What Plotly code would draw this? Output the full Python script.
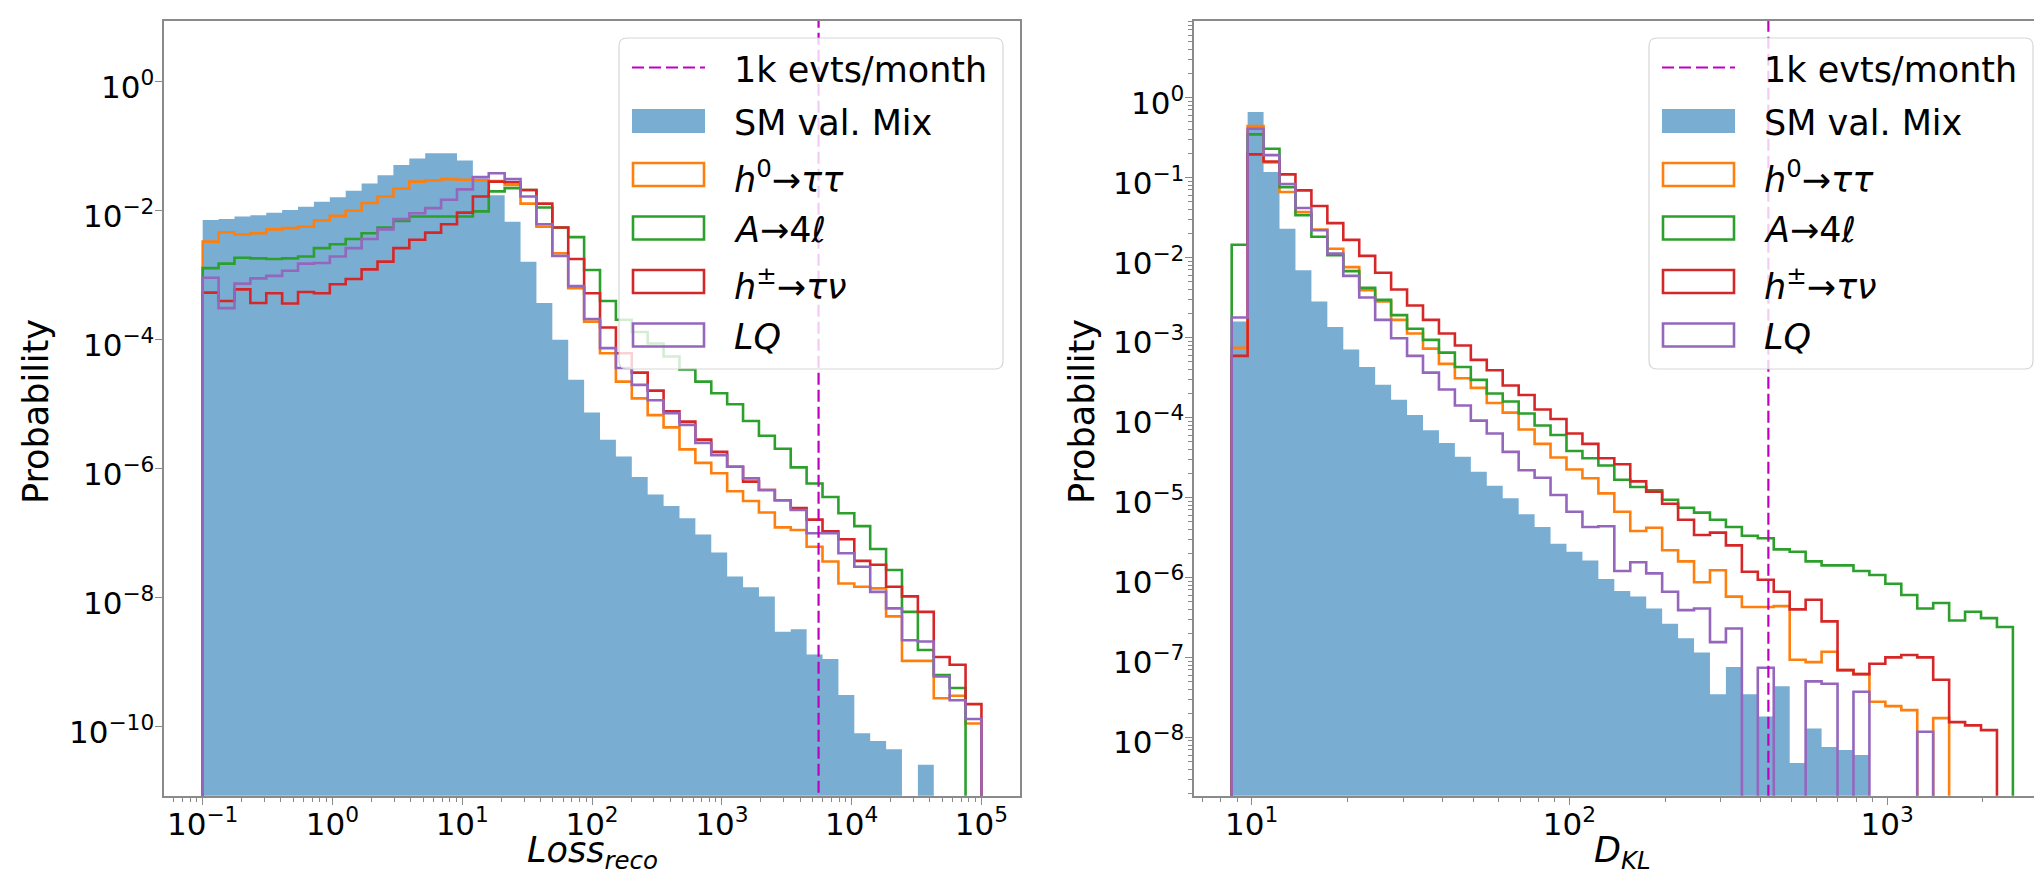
import numpy as np
import plotly.graph_objects as go

W, H = 2034, 876

# ---------------- data (log10 of probability per bin; None = empty bin) ----------------
N_BINS = 49
loss_edge_lo, loss_edge_hi = -1.0, 5.0        # log10 of first / last bin edge (Loss_reco)
dkl_edge_lo, dkl_edge_hi = 0.937, 3.396       # log10 of first / last bin edge (D_KL)
loss_cut = 5.56e3                              # 1k evts/month threshold (left)
dkl_cut = 423.0                                # 1k evts/month threshold (right)

loss_sm = [-2.145, -2.13, -2.09, -2.07, -2.03, -1.99, -1.94, -1.86, -1.79, -1.69,
           -1.58, -1.45, -1.29, -1.19, -1.11, -1.11, -1.22, -1.50, -1.76, -2.17,
           -2.79, -3.43, -4.00, -4.62, -5.13, -5.55, -5.81, -6.13, -6.40, -6.58,
           -6.77, -7.02, -7.30, -7.67, -7.84, -7.98, -8.53, -8.49, -8.88, -8.95,
           -9.51, -10.10, -10.22, -10.35, None, -10.59, None, None, None]
loss_h0 = [-2.48, -2.335, -2.37, -2.35, -2.29, -2.27, -2.25, -2.15, -2.08, -2.00,
           -1.88, -1.78, -1.66, -1.55, -1.53, -1.51, -1.52, -1.53, -1.54, -1.60,
           -1.89, -2.25, -2.66, -3.20, -3.72, -4.21, -4.65, -4.91, -5.17, -5.36,
           -5.70, -5.91, -6.07, -6.35, -6.50, -6.68, -6.91, -6.95, -7.21, -7.44,
           -7.78, -7.83, -7.855, -8.29, -8.98, -8.98, -9.56, -9.52, -9.95]
loss_a4l = [-2.89, -2.82, -2.73, -2.74, -2.75, -2.74, -2.71, -2.58, -2.52, -2.44,
            -2.35, -2.26, -2.16, -2.09, -2.09, -2.09, -2.09, -2.01, -1.70, -1.65,
            -1.68, -1.95, -2.26, -2.41, -2.92, -3.40, -3.69, -3.88, -4.06, -4.26,
            -4.46, -4.65, -4.83, -5.00, -5.26, -5.49, -5.69, -5.98, -6.23, -6.44,
            -6.69, -6.89, -7.245, -7.57, -8.22, -8.81, -9.20, -9.40, None]
loss_hpm = [-3.27, -3.40, -3.22, -3.43, -3.28, -3.44, -3.26, -3.28, -3.14, -3.06,
            -2.91, -2.79, -2.58, -2.45, -2.34, -2.21, -2.03, -1.78, -1.55, -1.56,
            -1.68, -1.89, -2.26, -2.75, -3.28, -3.81, -4.21, -4.51, -4.79, -5.11,
            -5.27, -5.55, -5.74, -5.97, -6.20, -6.33, -6.49, -6.61, -6.79, -6.97,
            -7.095, -7.43, -7.49, -7.83, -7.98, -8.22, -8.92, -9.04, -9.65]
loss_lq = [-3.04, -3.51, -3.13, -3.05, -3.01, -2.93, -2.82, -2.81, -2.71, -2.58,
           -2.44, -2.29, -2.13, -2.04, -1.96, -1.83, -1.67, -1.48, -1.42, -1.51,
           -1.78, -2.21, -2.70, -3.17, -3.68, -4.13, -4.44, -4.70, -4.94, -5.14,
           -5.32, -5.60, -5.79, -5.97, -6.15, -6.33, -6.49, -6.64, -7.00, -7.00,
           -7.31, -7.52, -7.91, -8.165, -8.66, -8.68, -9.22, -9.59, -9.88]

dkl_sm = [-2.8, -0.18, -0.93, -1.64, -2.16, -2.55, -2.87, -3.15, -3.37, -3.59,
          -3.78, -3.97, -4.16, -4.32, -4.49, -4.68, -4.855, -5.01, -5.21, -5.37,
          -5.58, -5.68, -5.79, -6.02, -6.17, -6.24, -6.39, -6.58, -6.76, -6.94,
          -7.46, -7.12, -7.46, -7.74, -7.36, -8.32, -7.89, -8.12, -8.16, -8.22,
          None, None, None, None, None, None, None, None, None]
dkl_h0 = [-3.13, -0.355, -0.81, -1.18, -1.43, -1.65, -1.89, -2.12, -2.41, -2.55,
          -2.78, -2.95, -3.14, -3.33, -3.51, -3.63, -3.82, -3.94, -4.15, -4.33,
          -4.50, -4.65, -4.76, -4.95, -5.18, -5.42, -5.38, -5.66, -5.80, -6.06,
          -5.91, -6.24, -6.37, -6.37, -6.36, -7.03, -7.06, -6.93, -7.16, -7.21,
          -7.555, -7.61, -7.66, None, -7.76, None, None, None, None]
dkl_a4l = [-1.84, -0.46, -0.64, -1.12, -1.47, -1.74, -1.97, -2.17, -2.38, -2.53,
           -2.72, -2.89, -3.03, -3.19, -3.37, -3.53, -3.70, -3.80, -3.95, -4.10,
           -4.22, -4.42, -4.51, -4.60, -4.78, -4.87, -4.91, -5.03, -5.13, -5.19,
           -5.28, -5.37, -5.48, -5.51, -5.65, -5.68, -5.80, -5.85, -5.85, -5.92,
           -5.97, -6.08, -6.22, -6.39, -6.32, -6.54, -6.43, -6.51, -6.62]
dkl_hpm = [-3.23, -0.71, -0.80, -0.96, -1.16, -1.355, -1.57, -1.78, -1.98, -2.19,
           -2.40, -2.60, -2.78, -2.95, -3.10, -3.28, -3.41, -3.60, -3.72, -3.90,
           -4.02, -4.20, -4.33, -4.51, -4.585, -4.80, -4.93, -5.08, -5.28, -5.47,
           -5.44, -5.60, -5.93, -6.03, -6.18, -6.40, -6.28, -6.55, -7.16, -7.21,
           -7.08, -7.00, -6.97, -7.00, -7.28, -7.81, -7.85, -7.91, None]
dkl_lq = [-2.75, -0.39, -0.72, -1.08, -1.38, -1.66, -1.95, -2.23, -2.50, -2.78,
          -3.01, -3.23, -3.44, -3.65, -3.85, -4.04, -4.20, -4.43, -4.66, -4.755,
          -4.97, -5.18, -5.37, -5.36, -5.92, -5.81, -5.95, -6.18, -6.41, -6.39,
          -6.81, -6.64, None, -7.13, None, None, -7.30, -7.33, None, -7.43,
          None, None, None, -7.93, None, None, None, None, None]

series_labels = ["SM val. Mix",
                 "<i>h</i><sup>0</sup>→<i>ττ</i>",
                 "<i>A</i>→4<i>ℓ</i>",
                 "<i>h</i><sup>±</sup>→<i>τν</i>",
                 "<i>LQ</i>"]
cut_label = "1k evts/month"
left_xticks = [1e-1, 1e0, 1e1, 1e2, 1e3, 1e4, 1e5]
left_xtext = ["10<sup>−1</sup>", "10<sup>0</sup>", "10<sup>1</sup>", "10<sup>2</sup>",
              "10<sup>3</sup>", "10<sup>4</sup>", "10<sup>5</sup>"]
left_yticks = [1e0, 1e-2, 1e-4, 1e-6, 1e-8, 1e-10]
left_ytext = ["10<sup>0</sup>", "10<sup>−2</sup>", "10<sup>−4</sup>", "10<sup>−6</sup>",
              "10<sup>−8</sup>", "10<sup>−10</sup>"]
right_xticks = [1e1, 1e2, 1e3]
right_xtext = ["10<sup>1</sup>", "10<sup>2</sup>", "10<sup>3</sup>"]
right_yticks = [1e0, 1e-1, 1e-2, 1e-3, 1e-4, 1e-5, 1e-6, 1e-7, 1e-8]
right_ytext = ["10<sup>0</sup>", "10<sup>−1</sup>", "10<sup>−2</sup>", "10<sup>−3</sup>",
               "10<sup>−4</sup>", "10<sup>−5</sup>", "10<sup>−6</sup>", "10<sup>−7</sup>",
               "10<sup>−8</sup>"]

# ---------------- styles ----------------
C_SM = "rgba(31,119,180,0.6)"
COLORS = ["#ff7f0e", "#2ca02c", "#d62728", "#9467bd"]
C_CUT = "#bf00bf"
LW = 2.6
FONT = "DejaVu Sans"
SPINE = "#8a8a8a"
FLOOR = 1e-30
TICK_FS = 31
LABEL_FS = 35
LEG_FS = 35

def step_path(lo, hi, vals):
    edges = np.logspace(lo, hi, len(vals) + 1)
    xs, ys = [edges[0]], [FLOOR]
    for i, v in enumerate(vals):
        y = FLOOR if v is None else 10.0 ** v
        xs += [edges[i], edges[i + 1]]
        ys += [y, y]
    xs.append(edges[-1]); ys.append(FLOOR)
    return xs, ys

fig = go.Figure()

panels = [
    (("x", "y"), (loss_edge_lo, loss_edge_hi), loss_sm, [loss_h0, loss_a4l, loss_hpm, loss_lq], loss_cut),
    (("x2", "y2"), (dkl_edge_lo, dkl_edge_hi), dkl_sm, [dkl_h0, dkl_a4l, dkl_hpm, dkl_lq], dkl_cut),
]
for (xa, ya), (lo, hi), sm, sigs, cut in panels:
    xs, ys = step_path(lo, hi, sm)
    fig.add_trace(go.Scatter(x=xs, y=ys, mode="lines", fill="toself", fillcolor=C_SM,
                             line=dict(width=0, color=C_SM), xaxis=xa, yaxis=ya,
                             showlegend=False, hoverinfo="skip"))
    for vals, col in zip(sigs, COLORS):
        xs, ys = step_path(lo, hi, vals)
        fig.add_trace(go.Scatter(x=xs, y=ys, mode="lines", line=dict(color=col, width=LW),
                                 xaxis=xa, yaxis=ya, showlegend=False, hoverinfo="skip"))
    fig.add_trace(go.Scatter(x=[cut, cut], y=[FLOOR, 1e10], mode="lines",
                             line=dict(color=C_CUT, width=2.2, dash="12px,5px"),
                             xaxis=xa, yaxis=ya, showlegend=False, hoverinfo="skip"))

# ---------------- axes ----------------
L_SPINE, R_SPINE = 164, 1194
ydom = [1 - 795.7 / H, 1 - 21 / H]
tickfont = dict(family=FONT, size=TICK_FS, color="black")
common = dict(type="log", showgrid=False, zeroline=False, showline=True, linecolor=SPINE,
              linewidth=1.6, ticks="outside", ticklen=7, tickwidth=1.4, tickcolor=SPINE,
              tickfont=tickfont, tickmode="array")

def minor_vals(dlo, dhi):
    return [m * 10.0 ** d for d in range(dlo, dhi) for m in range(2, 10)]

fig.update_layout(
    xaxis=dict(common, domain=[L_SPINE / W, 1020 / W], range=[-1.298, 5.297], anchor="y",
               mirror=True, tickvals=left_xticks, ticktext=left_xtext, ticklabelstandoff=-7,
               minor=dict(ticks="outside", ticklen=4, tickwidth=1, tickcolor=SPINE,
                          tickvals=minor_vals(-2, 6))),
    yaxis=dict(common, domain=ydom, range=[-11.07, 0.941], anchor="x", mirror=True,
               tickvals=left_yticks, showticklabels=False),
    xaxis2=dict(common, domain=[R_SPINE / W, 1.0], range=[0.8184, 0.8184 + 840 / 317.7],
                anchor="y2", mirror=True, tickvals=right_xticks, ticktext=right_xtext,
                ticklabelstandoff=-7,
                minor=dict(ticks="outside", ticklen=4, tickwidth=1, tickcolor=SPINE,
                           tickvals=minor_vals(0, 4))),
    yaxis2=dict(common, domain=ydom, range=[-8.73, 0.9575], anchor="x2", mirror=False,
                tickvals=right_yticks, showticklabels=False,
                minor=dict(ticks="outside", ticklen=4, tickwidth=1, tickcolor=SPINE,
                           tickvals=minor_vals(-9, 1))),
    width=W, height=H, margin=dict(l=0, r=0, t=0, b=0),
    paper_bgcolor="white", plot_bgcolor="white", showlegend=False,
    font=dict(family=FONT, color="black"),
)

def px(x): return x / W
def py(y): return 1 - y / H

ann = []
# y tick labels (right-aligned next to the spine)
for spine, yref, vals, texts in ((L_SPINE, "y", left_yticks, left_ytext),
                                 (R_SPINE, "y2", right_yticks, right_ytext)):
    for v, t in zip(vals, texts):
        ann.append(dict(x=px(spine - 8), y=float(np.log10(v)), xref="paper", yref=yref,
                        text=t, xanchor="right", yanchor="middle", yshift=-3,
                        showarrow=False, font=tickfont))

# ---------------- titles ----------------
for cx in (36, 1082):
    ann.append(dict(x=px(cx), y=py(412), xref="paper", yref="paper", text="Probability",
                    textangle=-90, xanchor="center", yanchor="middle", showarrow=False,
                    font=dict(family=FONT, size=LABEL_FS)))
ann.append(dict(x=px(592), y=py(852), xref="paper", yref="paper",
                text="<i>Loss<sub>reco</sub></i>", xanchor="center", yanchor="middle",
                showarrow=False, font=dict(family=FONT, size=LABEL_FS)))
ann.append(dict(x=px(1622), y=py(852), xref="paper", yref="paper",
                text="<i>D<sub>KL</sub></i>", xanchor="center", yanchor="middle",
                showarrow=False, font=dict(family=FONT, size=LABEL_FS)))

# ---------------- legends (matplotlib style) ----------------
shapes = []
def rrect(x0, y0, x1, y1, r):
    rx, ry = r / W, r / H
    X0, X1, Y0, Y1 = px(x0), px(x1), py(y0), py(y1)   # Y0 top, Y1 bottom
    return (f"M{X0+rx},{Y0} L{X1-rx},{Y0} Q{X1},{Y0} {X1},{Y0-ry} "
            f"L{X1},{Y1+ry} Q{X1},{Y1} {X1-rx},{Y1} L{X0+rx},{Y1} "
            f"Q{X0},{Y1} {X0},{Y1+ry} L{X0},{Y0-ry} Q{X0},{Y0} {X0+rx},{Y0} Z")

for L in (619, 1649):
    shapes.append(dict(type="path", xref="paper", yref="paper", layer="above",
                       path=rrect(L, 38, L + 384, 369, 8),
                       fillcolor="rgba(255,255,255,0.8)",
                       line=dict(color="rgba(204,204,204,0.8)", width=1.2)))
    yc = [67.5 + 53.5 * k for k in range(6)]
    shapes.append(dict(type="line", xref="paper", yref="paper", layer="above",
                       x0=px(L + 13), x1=px(L + 86), y0=py(yc[0]), y1=py(yc[0]),
                       line=dict(color=C_CUT, width=2.2, dash="12px,5px")))
    shapes.append(dict(type="rect", xref="paper", yref="paper", layer="above",
                       x0=px(L + 13), x1=px(L + 86), y0=py(yc[1] - 12), y1=py(yc[1] + 12),
                       fillcolor=C_SM, line=dict(width=0)))
    for k, col in enumerate(COLORS):
        c = yc[k + 2]
        shapes.append(dict(type="rect", xref="paper", yref="paper", layer="above",
                           x0=px(L + 14), x1=px(L + 85), y0=py(c - 11.5), y1=py(c + 11.5),
                           fillcolor="rgba(0,0,0,0)", line=dict(color=col, width=LW)))
    texts = [cut_label] + series_labels
    for k, t in enumerate(texts):
        ann.append(dict(x=px(L + 113), y=py(yc[k] + 2), xref="paper", yref="paper", text=t,
                        xanchor="left", yanchor="middle", showarrow=False,
                        font=dict(family=FONT, size=LEG_FS, color="black")))

fig.update_layout(shapes=shapes, annotations=ann)
fig.write_html("out.html")
